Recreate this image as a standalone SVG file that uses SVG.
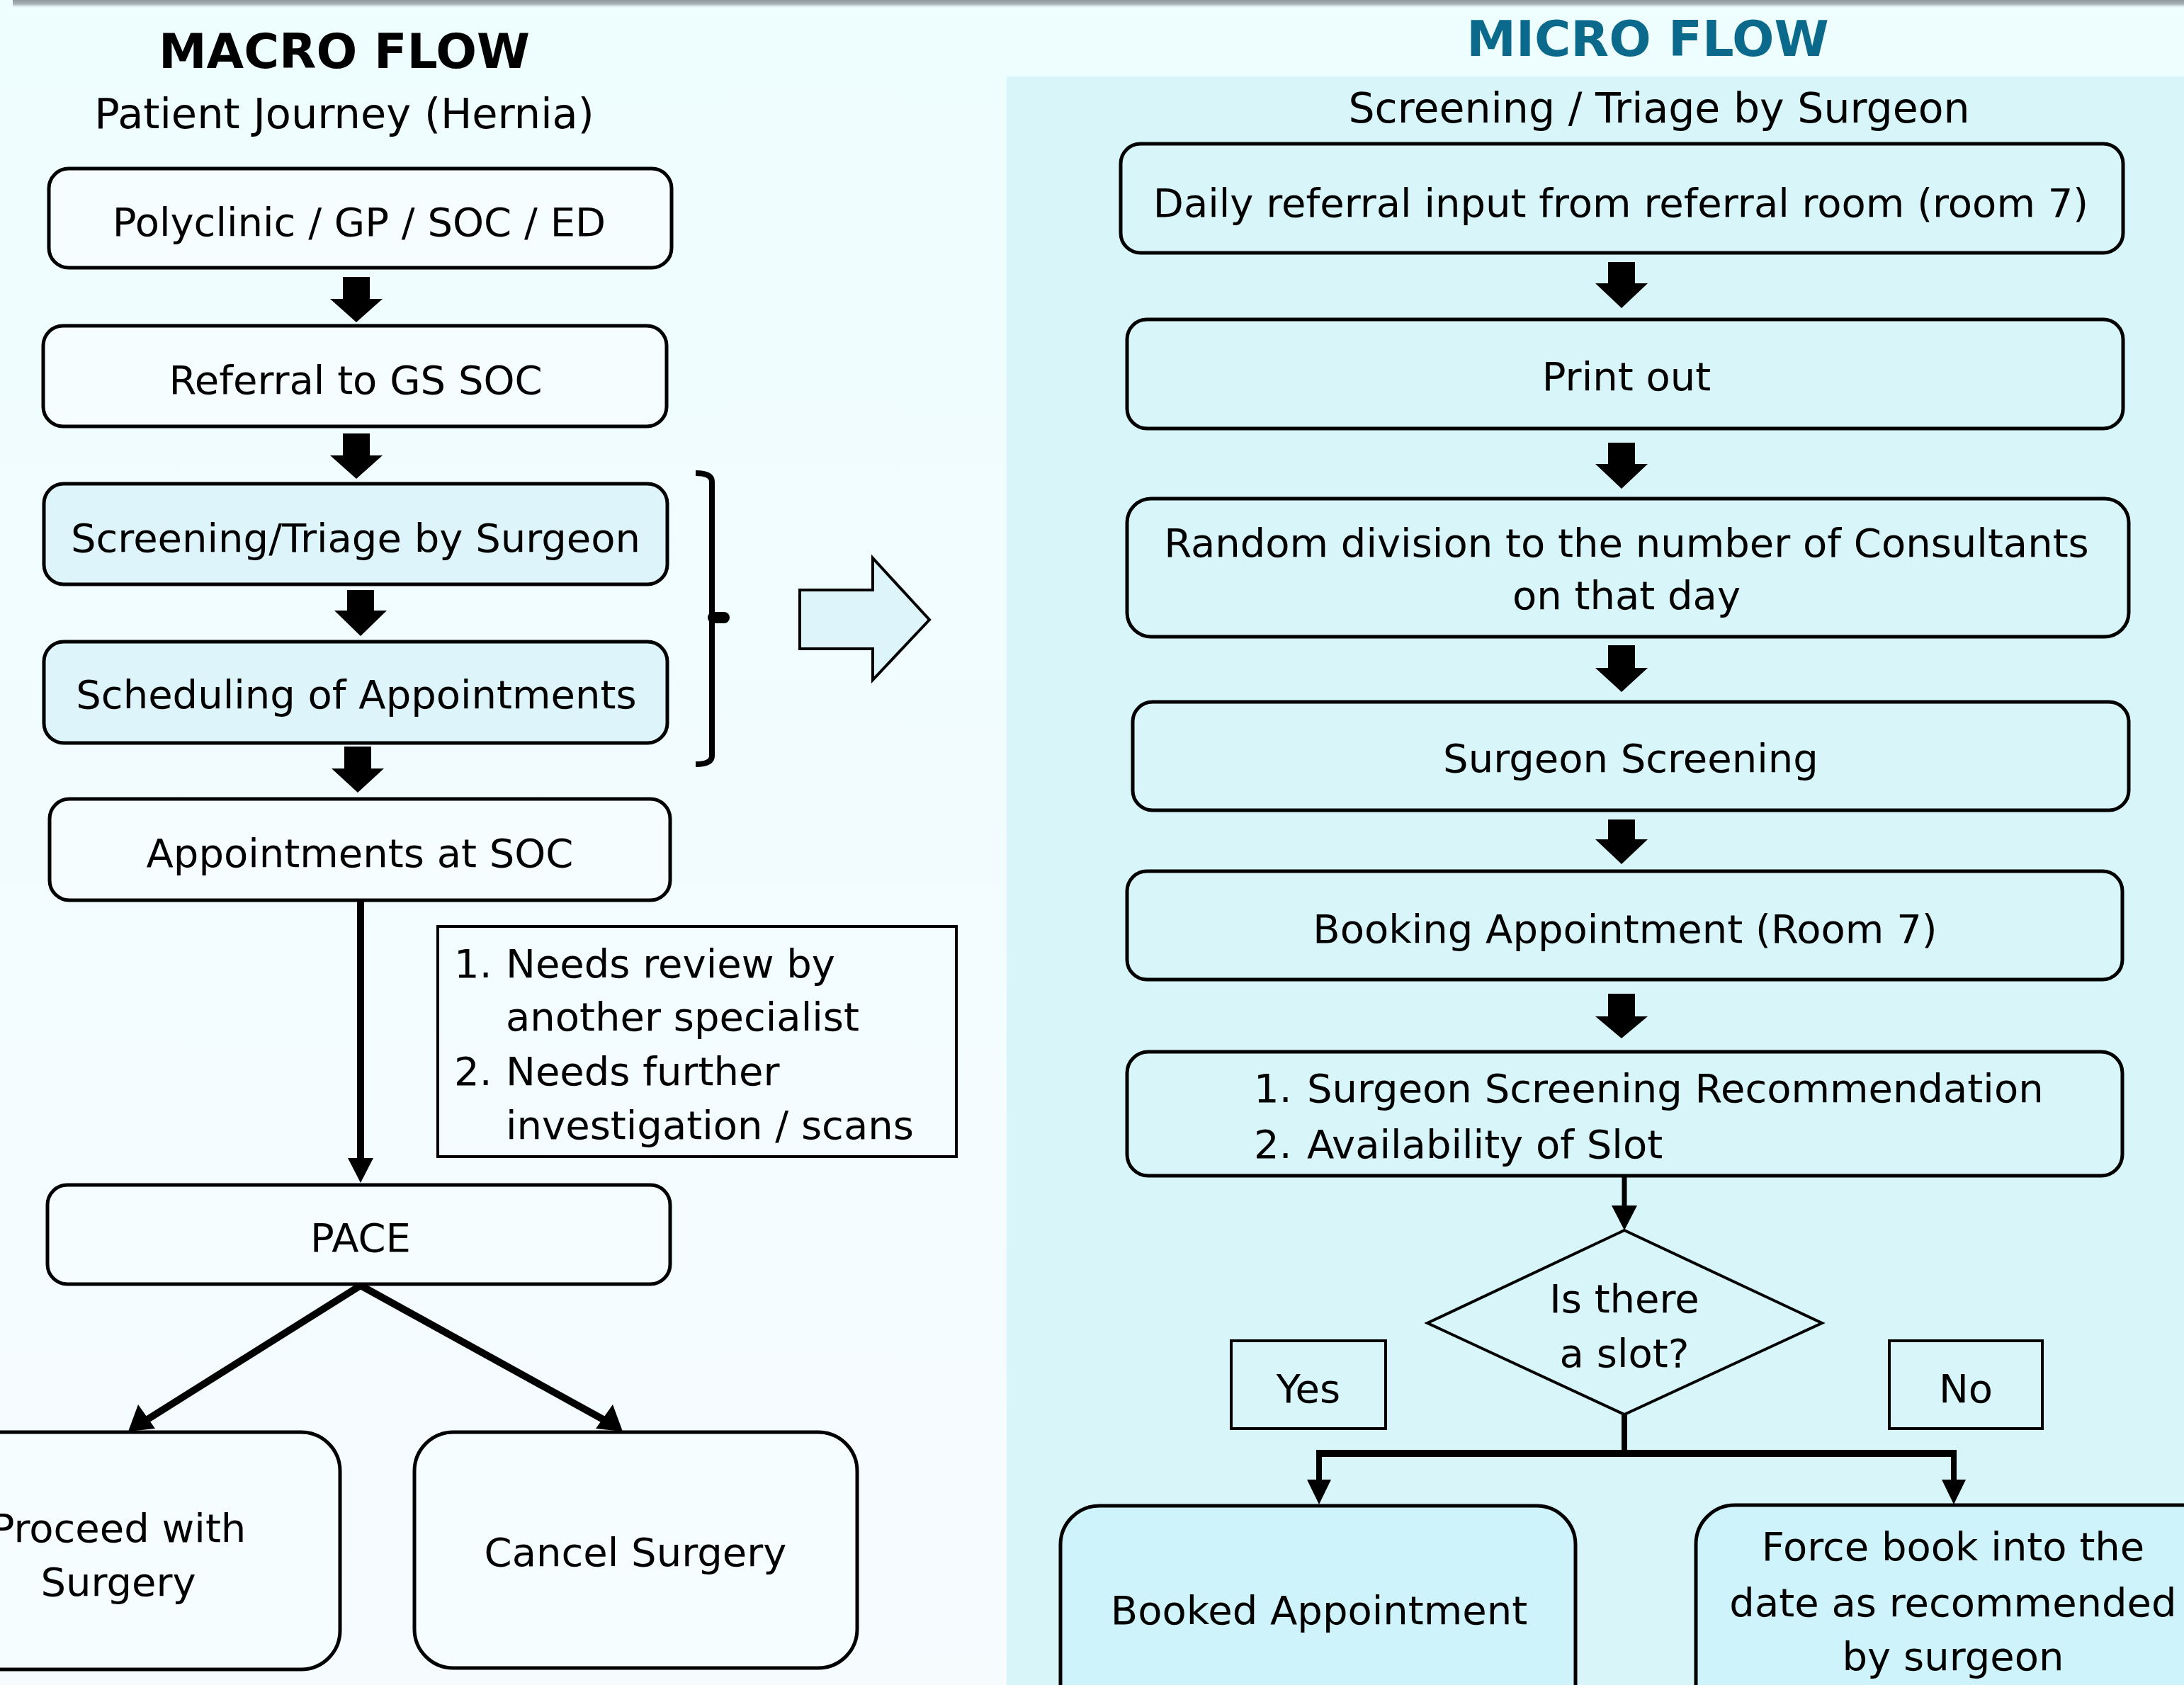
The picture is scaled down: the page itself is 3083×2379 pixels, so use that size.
<svg xmlns="http://www.w3.org/2000/svg" width="3083" height="2379" viewBox="0 0 3083 2379">
<style>
text{font-family:"DejaVu Sans","Liberation Sans",sans-serif;font-size:56px;fill:#000}
.c{text-anchor:middle}
.box{fill:#f6fdfe;stroke:#000;stroke-width:5}
.hl{fill:#dcf4fa;stroke:#000;stroke-width:5}
.rbox{fill:none;stroke:#000;stroke-width:5}
.sq{fill:none;stroke:#000;stroke-width:4}
.blk{fill:#000}
.ln{stroke:#000;fill:none}
</style>
<defs>
<linearGradient id="bg" x1="0" y1="0" x2="0" y2="1">
<stop offset="0" stop-color="#eefdfe"/>
<stop offset="1" stop-color="#f6fbfe"/>
</linearGradient>
<linearGradient id="shadow" x1="0" y1="0" x2="0" y2="1">
<stop offset="0" stop-color="#8e9aa0"/>
<stop offset="0.5" stop-color="#a9b4b8"/>
<stop offset="1" stop-color="#eefdfe" stop-opacity="0"/>
</linearGradient>
</defs>
<rect x="0" y="0" width="3083" height="2379" fill="url(#bg)"/>
<rect x="18" y="0" width="3065" height="12" fill="url(#shadow)"/>
<rect x="1421" y="108" width="1662" height="2271" fill="#d8f5fa"/>

<text x="486" y="96" class="c" style="font-weight:bold;font-size:68px">MACRO FLOW</text>
<text x="486" y="181" class="c" style="font-size:59px">Patient Journey (Hernia)</text>
<text x="2326" y="79" class="c" style="font-weight:bold;font-size:70px;fill:#0b6a8c">MICRO FLOW</text>
<text x="2342" y="173" class="c" style="font-size:58.5px">Screening / Triage by Surgeon</text>

<g id="connectors">
<path class="blk" d="M484 391H522V422H540L503 455L466 422H484Z"/>
<path class="blk" d="M484 612H522V643H540L503 676L466 643H484Z"/>
<path class="blk" d="M490 833H528V862H546L509 898L472 862H490Z"/>
<path class="blk" d="M486 1054H524V1085H542L505 1119L468 1085H486Z"/>
<path class="ln" d="M509 1271V1640" style="stroke-width:10"/>
<path class="blk" d="M491 1635H527L509 1670Z"/>
<path class="ln" d="M509 1815L205 2006M509 1815L855 2006" style="stroke-width:10"/>
<path class="blk" d="M181 2021L195 1983L219 2017Z"/>
<path class="blk" d="M879 2021L841 2017L865 1983Z"/>
<path class="ln" d="M982 668Q1005 668 1005 680V1067Q1005 1079 982 1079" style="stroke-width:8"/>
<path class="ln" d="M1007 872H1022" style="stroke-width:16;stroke-linecap:round"/>
<path d="M1129 833H1232V788L1312 875L1232 960V916H1129Z" fill="#dcf4fa" stroke="#000" stroke-width="4"/>
<path class="blk" d="M2270 370H2308V400H2326L2289 435L2252 400H2270Z"/>
<path class="blk" d="M2270 625H2308V655H2326L2289 690L2252 655H2270Z"/>
<path class="blk" d="M2270 911H2308V943H2326L2289 977L2252 943H2270Z"/>
<path class="blk" d="M2270 1157H2308V1185H2326L2289 1220L2252 1185H2270Z"/>
<path class="blk" d="M2270 1403H2308V1435H2326L2289 1466L2252 1435H2270Z"/>
<path class="ln" d="M2293 1660V1705" style="stroke-width:7"/>
<path class="blk" d="M2275 1702H2311L2293 1737Z"/>
<path class="ln" d="M2293 1997V2052" style="stroke-width:8"/>
<path class="ln" d="M1858 2052H2762" style="stroke-width:10"/>
<path class="ln" d="M1862 2050V2092M2758 2050V2092" style="stroke-width:8"/>
<path class="blk" d="M1845 2089H1879L1862 2124Z"/>
<path class="blk" d="M2741 2089H2775L2758 2124Z"/>
</g>

<g id="n-polyclinic"><rect class="box" x="69" y="238" width="879" height="140" rx="28"/><text x="507" y="333" class="c">Polyclinic / GP / SOC / ED</text></g>
<g id="n-referral"><rect class="box" x="61" y="460" width="880" height="142" rx="28"/><text x="502" y="556" class="c">Referral to GS SOC</text></g>
<g id="n-screening"><rect class="hl" x="62" y="683" width="880" height="142" rx="28"/><text x="502" y="779" class="c">Screening/Triage by Surgeon</text></g>
<g id="n-scheduling"><rect class="hl" x="62" y="906" width="880" height="143" rx="28"/><text x="503" y="1000" class="c">Scheduling of Appointments</text></g>
<g id="n-appointments"><rect class="box" x="70" y="1128" width="876" height="143" rx="28"/><text x="508" y="1224" class="c">Appointments at SOC</text></g>
<g id="n-note"><rect class="sq" x="618" y="1308" width="732" height="325" fill="none"/>
<text x="641" y="1380">1.</text><text x="714" y="1380">Needs review by</text>
<text x="714" y="1455">another specialist</text>
<text x="641" y="1532">2.</text><text x="714" y="1532">Needs further</text>
<text x="714" y="1608">investigation / scans</text></g>
<g id="n-pace"><rect class="box" x="67" y="1673" width="879" height="140" rx="28"/><text x="509" y="1767" class="c">PACE</text></g>
<g id="n-proceed"><rect class="box" x="-146" y="2022" width="626" height="335" rx="55"/><text x="167" y="2177" class="c">Proceed with</text><text x="167" y="2253" class="c">Surgery</text></g>
<g id="n-cancel"><rect class="box" x="585" y="2022" width="625" height="333" rx="55"/><text x="897" y="2211" class="c">Cancel Surgery</text></g>

<g id="m-daily"><rect class="rbox" x="1582" y="203" width="1415" height="154" rx="28"/><text x="2288" y="306" class="c">Daily referral input from referral room (room 7)</text></g>
<g id="m-print"><rect class="rbox" x="1591" y="451" width="1406" height="154" rx="28"/><text x="2296" y="551" class="c">Print out</text></g>
<g id="m-random"><rect class="rbox" x="1591" y="704" width="1414" height="195" rx="34"/><text x="2296" y="786" class="c">Random division to the number of Consultants</text><text x="2296" y="860" class="c">on that day</text></g>
<g id="m-surgeon"><rect class="rbox" x="1599" y="991" width="1406" height="153" rx="28"/><text x="2302" y="1090" class="c">Surgeon Screening</text></g>
<g id="m-booking"><rect class="rbox" x="1591" y="1230" width="1405" height="153" rx="28"/><text x="2294" y="1331" class="c">Booking Appointment (Room 7)</text></g>
<g id="m-criteria"><rect class="rbox" x="1591" y="1485" width="1405" height="175" rx="30"/>
<text x="1770" y="1556">1.</text><text x="1845" y="1556">Surgeon Screening Recommendation</text>
<text x="1770" y="1635">2.</text><text x="1845" y="1635">Availability of Slot</text></g>
<g id="m-decision"><path d="M2293 1737L2572 1868L2293 1997L2015 1868Z" fill="none" stroke="#000" stroke-width="4"/><text x="2293" y="1853" class="c">Is there</text><text x="2293" y="1930" class="c">a slot?</text></g>
<g id="m-yes"><rect class="sq" x="1738" y="1893" width="218" height="124"/><text x="1847" y="1980" class="c">Yes</text></g>
<g id="m-no"><rect class="sq" x="2667" y="1893" width="216" height="124"/><text x="2775" y="1980" class="c">No</text></g>
<g id="m-booked"><rect x="1497" y="2126" width="727" height="320" rx="55" fill="#cff3fa" stroke="#000" stroke-width="5"/><text x="1862" y="2293" class="c">Booked Appointment</text></g>
<g id="m-force"><rect x="2394" y="2125" width="760" height="320" rx="55" fill="#cff3fa" stroke="#000" stroke-width="5"/><text x="2757" y="2203" class="c">Force book into the</text><text x="2757" y="2282" class="c">date as recommended</text><text x="2757" y="2358" class="c">by surgeon</text></g>
</svg>
